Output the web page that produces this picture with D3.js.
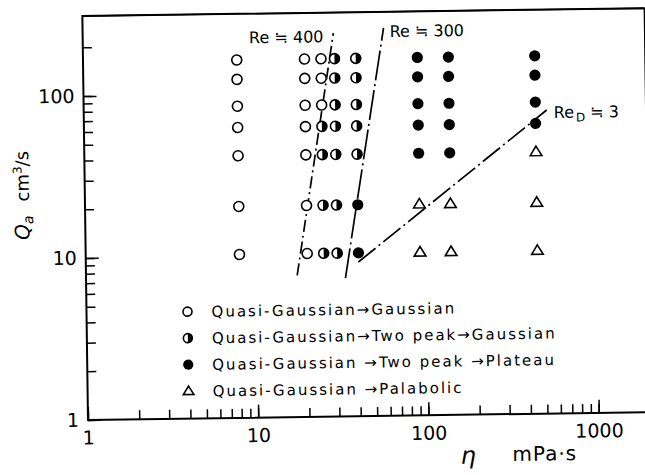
<!DOCTYPE html>
<html>
<head>
<meta charset="utf-8">
<script src="https://cdn.jsdelivr.net/npm/d3@7"></script>
<style>
  body { margin: 0; background: #fff; }
  text { font-family: 'DejaVu Sans', sans-serif; fill: #000; }
</style>
</head>
<body>
<svg id="chart" width="645" height="475"></svg>
<script>
// points: [eta (mPa·s), Qa (cm3/s)]
const gaussian = [
  [8, 162], [20, 162], [25, 162],
  [8, 123], [20, 123], [25, 123],
  [8, 84], [20, 84], [25, 84],
  [8, 62], [20, 62],
  [8, 41.5], [20, 41.5],
  [8, 20.2], [20, 20.2],
  [8, 10.2], [20, 10.2]
]
const twoPeakGaussian = [
  [30, 162], [40, 162],
  [30, 123], [40, 123],
  [30, 84], [40, 84],
  [25, 62], [30, 62], [40, 62],
  [25, 41.5], [30, 41.5], [40, 41.5],
  [25, 20.2], [30, 20.2],
  [25, 10.2], [30, 10.2]
]
const twoPeakPlateau = [
  [92, 162], [140, 162], [450, 162],
  [92, 123], [140, 123], [450, 123],
  [92, 84], [140, 84], [450, 84],
  [92, 62], [140, 62], [450, 62],
  [92, 41.5], [140, 41.5],
  [40, 20.2], [40, 10.2]
]
const palabolic = [
  [450, 41.5],
  [92, 20.2], [140, 20.2], [450, 20.2],
  [92, 10.2], [140, 10.2], [450, 10.2]
]

// boundary lines (end points)
const re400 = [[17.4, 7.5], [29.7, 233]]
const re300 = [[33.4, 7.15], [58.6, 248]]
const reD3 = [[39.9, 8.95], [524, 74.8]]

const xMajor = [1, 10, 100, 1000]
const yMajor = [1, 10, 100]

const legendLabels = [
  'Quasi-Gaussian→Gaussian',
  'Quasi-Gaussian→Two peak→Gaussian',
  'Quasi-Gaussian →Two peak →Plateau',
  'Quasi-Gaussian →Palabolic'
]

const W = 562, H = 404
const svg = d3.select('#chart')

// the scanned figure sits slightly tilted
const g = svg.append('g').attr('transform', 'translate(88,420) rotate(-0.8)')

const x = d3.scaleLog().domain([1, 2000]).range([0, W])
const y = d3.scaleLog().domain([1, 312]).range([0, -H])

// minor ticks
g.append('g')
  .call(d3.axisBottom(x).tickValues(x.ticks()).tickSize(-9).tickSizeOuter(0).tickFormat(''))
  .call(a => a.select('.domain').remove())
g.append('g')
  .call(d3.axisLeft(y).tickValues(y.ticks().filter(d => d <= 200)).tickSize(-9).tickSizeOuter(0).tickFormat(''))
  .call(a => a.select('.domain').remove())

// major ticks + labels
g.append('g')
  .call(d3.axisBottom(x).tickValues(xMajor).tickSize(-13).tickSizeOuter(0).tickPadding(11).tickFormat(d3.format('d')))
  .call(a => a.select('.domain').remove())
  .call(a => a.selectAll('text').attr('font-size', 19).attr('font-family', 'DejaVu Sans'))
g.append('g')
  .call(d3.axisLeft(y).tickValues(yMajor).tickSize(-13).tickSizeOuter(0).tickPadding(9).tickFormat(d3.format('d')))
  .call(a => a.select('.domain').remove())
  .call(a => a.selectAll('text').attr('font-size', 19).attr('font-family', 'DejaVu Sans'))
g.selectAll('.tick line').attr('stroke-width', 1.5)

// frame
g.append('path')
  .attr('d', `M${W},${-H}H0V0H${W}`)
  .attr('fill', 'none').attr('stroke', '#000').attr('stroke-width', 2)
g.append('path')
  .attr('d', `M0,${-H}H${W}V0`)
  .attr('fill', 'none').attr('stroke', '#000').attr('stroke-width', 1.4)

// boundary lines
const line = d3.line().x(d => x(d[0])).y(d => y(d[1]))
const bounds = [
  {data: re400, dash: '12,4,2,4'},
  {data: re300, dash: '30,4,2,4'},
  {data: reD3, dash: '22,4,2,4'}
]
g.selectAll('.bound').data(bounds).enter().append('path')
  .attr('class', 'bound')
  .attr('d', d => line(d.data))
  .attr('fill', 'none').attr('stroke', '#000').attr('stroke-width', 1.7)
  .attr('stroke-dasharray', d => d.dash)

// line labels
const top400 = re400[1], top300 = re300[1], endD = reD3[1]
g.append('text').attr('x', x(top400[0]) - 10).attr('y', y(top400[1]) + 9)
  .attr('text-anchor', 'end').attr('font-size', 16).text('Re ≒ 400')
g.append('text').attr('x', x(top300[0]) + 6).attr('y', y(top300[1]) + 9)
  .attr('font-size', 16).text('Re ≒ 300')
const tD = g.append('text').attr('x', x(endD[0]) + 7).attr('y', y(endD[1]) + 8).attr('font-size', 16)
tD.append('tspan').text('Re')
tD.append('tspan').attr('font-size', 12).attr('dy', 4).attr('dx', 2).text('D')
tD.append('tspan').attr('dy', -4).text(' ≒ 3')

// markers
function drawMarker(sel, kind, r) {
  if (kind === 'open') {
    sel.append('circle').attr('r', r).attr('fill', '#fff').attr('stroke', '#000').attr('stroke-width', 1.6)
  } else if (kind === 'half') {
    sel.append('circle').attr('r', r).attr('fill', '#fff').attr('stroke', '#000').attr('stroke-width', 1.6)
    sel.append('path').attr('d', `M0,${-r}A${r},${r} 0 0 1 0,${r}Z`).attr('fill', '#000')
  } else if (kind === 'filled') {
    sel.append('circle').attr('r', r + 0.6).attr('fill', '#000')
  } else {
    sel.append('path').attr('d', `M0,${-r - 0.5}L${r + 0.8},${r - 1}L${-r - 0.8},${r - 1}Z`)
      .attr('fill', '#fff').attr('stroke', '#000').attr('stroke-width', 1.6).attr('stroke-linejoin', 'miter')
  }
}

const groups = [
  {data: gaussian, kind: 'open'},
  {data: twoPeakGaussian, kind: 'half'},
  {data: twoPeakPlateau, kind: 'filled'},
  {data: palabolic, kind: 'tri'}
]
groups.forEach(grp => {
  g.selectAll(null).data(grp.data).enter().append('g')
    .attr('transform', d => `translate(${x(d[0])},${y(d[1])})`)
    .each(function() { drawMarker(d3.select(this), grp.kind, 5) })
})

// legend
const leg = g.append('g').attr('transform', 'translate(101,-107)')
legendLabels.forEach((lab, i) => {
  const row = leg.append('g').attr('transform', `translate(0,${i * 26.5})`)
  drawMarker(row.append('g'), groups[i].kind, 4.5)
  row.append('text').attr('x', 24).attr('y', 5.5)
    .attr('font-size', 15).attr('letter-spacing', 2).text(lab)
})

// axis titles
const yt = g.append('text').attr('transform', 'translate(-56,-181) rotate(-90)').attr('font-size', 18)
yt.append('tspan').attr('font-style', 'italic').attr('font-size', 20).text('Q')
yt.append('tspan').attr('font-style', 'italic').attr('font-size', 14).attr('dy', 4).text('a')
yt.append('tspan').attr('dy', -4).attr('dx', 14).text('cm')
yt.append('tspan').attr('font-size', 12).attr('dy', -7).text('3')
yt.append('tspan').attr('dy', 7).text('/s')

g.append('text').attr('x', 372).attr('y', 49)
  .attr('font-family', 'DejaVu Serif').attr('font-style', 'italic').attr('font-size', 24).text('η')
g.append('text').attr('x', 424).attr('y', 47)
  .attr('font-size', 20).attr('letter-spacing', 1).text('mPa·s')
</script>
</body>
</html>
